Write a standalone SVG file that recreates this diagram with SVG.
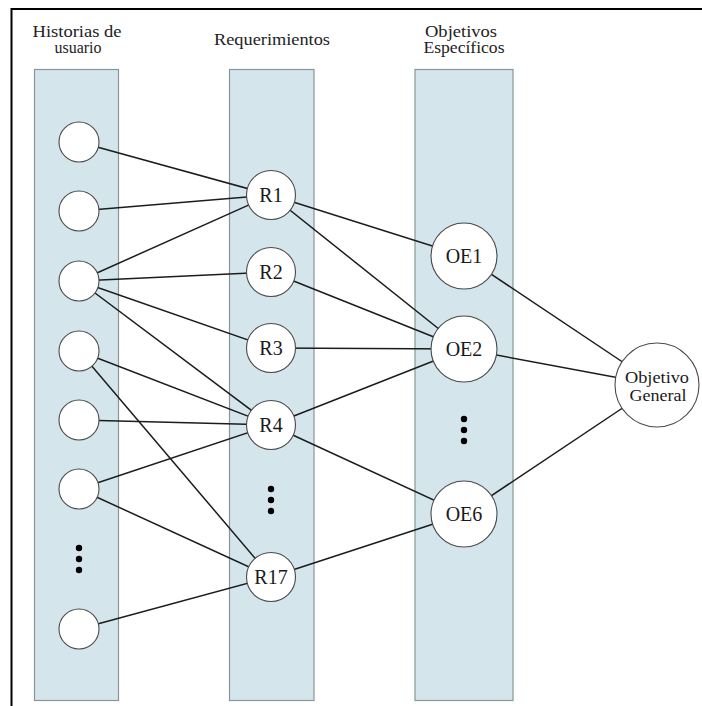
<svg xmlns="http://www.w3.org/2000/svg" width="702" height="706" viewBox="0 0 702 706">
<style>
.col{fill:#d4e6ec;stroke:#8a9598;stroke-width:1.2}
.edge{stroke:#1c1c1c;stroke-width:1.5;fill:none}
.node{fill:#ffffff;stroke:#4a4a4a;stroke-width:1.1}
text{font-family:'Liberation Serif','DejaVu Serif',serif;fill:#1a1a1a;text-anchor:middle}
.hdr{font-size:16px;fill:#222}
.lbl{font-size:20px}
.og{font-size:16px}
.dot{fill:#000}
</style>
<rect width="702" height="706" fill="#ffffff"/>
<g id="frame">
<line x1="11" y1="9" x2="702" y2="9" stroke="#000" stroke-width="2.2"/>
<line x1="11.5" y1="8" x2="11.5" y2="706" stroke="#000" stroke-width="2"/>
</g>
<g id="columns">
<rect class="col" x="34.5" y="69.5" width="84" height="631"/>
<rect class="col" x="229.5" y="69.5" width="84.5" height="631"/>
<rect class="col" x="415" y="69.5" width="98" height="631"/>
</g>
<g id="headers" font-family="Liberation Serif, DejaVu Serif, serif">
<text class="hdr" x="77" y="37" textLength="89" lengthAdjust="spacingAndGlyphs">Historias de</text>
<text class="hdr" x="78" y="53" textLength="47" lengthAdjust="spacingAndGlyphs">usuario</text>
<text class="hdr" x="272" y="45" textLength="116" lengthAdjust="spacingAndGlyphs">Requerimientos</text>
<text class="hdr" x="461" y="37" textLength="72" lengthAdjust="spacingAndGlyphs">Objetivos</text>
<text class="hdr" x="464" y="53" textLength="81" lengthAdjust="spacingAndGlyphs">Específicos</text>
</g>
<g id="connectors">
<line class="edge" x1="79" y1="142" x2="271" y2="195"/>
<line class="edge" x1="79" y1="211" x2="271" y2="195"/>
<line class="edge" x1="79" y1="281" x2="271" y2="195"/>
<line class="edge" x1="79" y1="281" x2="271" y2="272"/>
<line class="edge" x1="79" y1="281" x2="271" y2="348"/>
<line class="edge" x1="79" y1="281" x2="271" y2="425"/>
<line class="edge" x1="79" y1="351" x2="271" y2="425"/>
<line class="edge" x1="79" y1="351" x2="271" y2="577"/>
<line class="edge" x1="79" y1="420" x2="271" y2="425"/>
<line class="edge" x1="79" y1="489" x2="271" y2="425"/>
<line class="edge" x1="79" y1="489" x2="271" y2="577"/>
<line class="edge" x1="79" y1="629" x2="271" y2="577"/>
<line class="edge" x1="271" y1="195" x2="464" y2="256"/>
<line class="edge" x1="271" y1="195" x2="464" y2="349"/>
<line class="edge" x1="271" y1="272" x2="464" y2="349"/>
<line class="edge" x1="271" y1="348" x2="464" y2="349"/>
<line class="edge" x1="271" y1="425" x2="464" y2="349"/>
<line class="edge" x1="271" y1="425" x2="464" y2="514"/>
<line class="edge" x1="271" y1="577" x2="464" y2="514"/>
<line class="edge" x1="464" y1="256" x2="657" y2="385"/>
<line class="edge" x1="464" y1="349" x2="657" y2="385"/>
<line class="edge" x1="464" y1="514" x2="657" y2="385"/>
</g>
<g id="H1"><circle class="node" cx="79" cy="142" r="20"/></g>
<g id="H2"><circle class="node" cx="79" cy="211" r="20"/></g>
<g id="H3"><circle class="node" cx="79" cy="281" r="20"/></g>
<g id="H4"><circle class="node" cx="79" cy="351" r="20"/></g>
<g id="H5"><circle class="node" cx="79" cy="420" r="20"/></g>
<g id="H6"><circle class="node" cx="79" cy="489" r="20"/></g>
<g id="H7"><circle class="node" cx="79" cy="629" r="20"/></g>
<g id="Hdots"><circle class="dot" cx="79" cy="548" r="3.2"/><circle class="dot" cx="79" cy="559" r="3.2"/><circle class="dot" cx="79" cy="570" r="3.2"/></g>
<g id="R1"><circle class="node" cx="271" cy="195" r="24.5"/><text class="lbl" x="271" y="202" font-family="Liberation Serif, DejaVu Serif, serif">R1</text></g>
<g id="R2"><circle class="node" cx="271" cy="272" r="24.5"/><text class="lbl" x="271" y="279" font-family="Liberation Serif, DejaVu Serif, serif">R2</text></g>
<g id="R3"><circle class="node" cx="271" cy="348" r="24.5"/><text class="lbl" x="271" y="355" font-family="Liberation Serif, DejaVu Serif, serif">R3</text></g>
<g id="R4"><circle class="node" cx="271" cy="425" r="24.5"/><text class="lbl" x="271" y="432" font-family="Liberation Serif, DejaVu Serif, serif">R4</text></g>
<g id="Rdots"><circle class="dot" cx="271" cy="489" r="3.2"/><circle class="dot" cx="271" cy="500" r="3.2"/><circle class="dot" cx="271" cy="511" r="3.2"/></g>
<g id="R17"><circle class="node" cx="271" cy="577" r="24.5"/><text class="lbl" x="271" y="584" font-family="Liberation Serif, DejaVu Serif, serif">R17</text></g>
<g id="OE1"><circle class="node" cx="464" cy="256" r="33"/><text class="lbl" x="464" y="263" font-family="Liberation Serif, DejaVu Serif, serif">OE1</text></g>
<g id="OE2"><circle class="node" cx="464" cy="349" r="33"/><text class="lbl" x="464" y="356" font-family="Liberation Serif, DejaVu Serif, serif">OE2</text></g>
<g id="OEdots"><circle class="dot" cx="464" cy="419" r="3.2"/><circle class="dot" cx="464" cy="430" r="3.2"/><circle class="dot" cx="464" cy="441" r="3.2"/></g>
<g id="OE6"><circle class="node" cx="464" cy="514" r="33"/><text class="lbl" x="464" y="521" font-family="Liberation Serif, DejaVu Serif, serif">OE6</text></g>
<g id="OG"><circle class="node" cx="657" cy="385" r="42"/><text class="og" x="657" y="383" textLength="64" lengthAdjust="spacingAndGlyphs" font-family="Liberation Serif, DejaVu Serif, serif">Objetivo</text><text class="og" x="658" y="401" textLength="57" lengthAdjust="spacingAndGlyphs" font-family="Liberation Serif, DejaVu Serif, serif">General</text></g>
</svg>
